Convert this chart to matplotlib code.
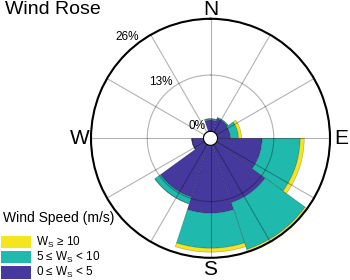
import numpy as np
import matplotlib
matplotlib.use('Agg')
import matplotlib.pyplot as plt
from matplotlib.patches import Patch

plt.rcParams['font.family'] = ['Liberation Sans', 'DejaVu Sans']

# wind direction bins (degrees, clockwise from north), 36 deg wide
directions = [0, 36, 72, 108, 144, 180, 216, 252, 288, 324]
# frequency (%) per speed class
low = [2.6, 3.2, 3.0, 10.3, 14.0, 15.7, 12.7, 2.7, 0.0, 0.0]     # 0 <= Ws < 5
mid = [0.3, 0.2, 1.85, 8.8, 11.4, 8.1, 1.6, 0.0, 0.0, 0.0]       # 5 <= Ws < 10
high = [0.0, 0.0, 0.7, 0.95, 0.5, 0.9, 0.0, 0.0, 0.0, 0.0]      # Ws >= 10

ring_labels = ['0%', '13%', '26%']
compass = ['N', 'E', 'S', 'W']
speed_labels = ['W$_\\mathregular{S}$ ≥ 10',
                '5 ≤ W$_\\mathregular{S}$ < 10',
                '0 ≤ W$_\\mathregular{S}$ < 5']
colors = ['#f5e51f', '#20b9ad', '#46399e']

fig = plt.figure(figsize=(3.5, 2.8), dpi=100)
ax = fig.add_axes([0.26, 0.0793, 0.6829, 0.8536], projection='polar')
ax.set_theta_zero_location('N')
ax.set_theta_direction(-1)
ax.set_rlim(0, 26)
ax.set_rorigin(-1.62)

theta = np.deg2rad(directions)
w = np.deg2rad(36)
low = np.array(low)
mid = np.array(mid)
high = np.array(high)
ec = (0, 0, 0, 0.25)
ax.bar(theta, low, width=w, bottom=0, color=colors[2], edgecolor=ec, linewidth=0.5)
ax.bar(theta, mid, width=w, bottom=low, color=colors[1], edgecolor=ec, linewidth=0.5)
ax.bar(theta, high, width=w, bottom=low + mid, color=colors[0], edgecolor=ec, linewidth=0.5)

ax.set_axisbelow(False)
ax.set_thetagrids(range(0, 360, 30), labels=[])
ax.set_rgrids([13, 26], labels=[])
ax.grid(True, color='k', alpha=0.3, linewidth=0.8)
ax.spines['polar'].set_linewidth(1.5)
ax.spines['polar'].set_color('k')
ax.spines['inner'].set_visible(False)

for i, lab in enumerate(compass):
    rr = 28.2 if lab == 'N' else 28.7
    ax.text(np.deg2rad(90 * i), rr, lab, fontsize=15, ha='center', va='center')

for r, lab in zip([0.3, 13, 26], ring_labels):
    ax.text(np.deg2rad(-37), r, lab, fontsize=8.5, ha='right', va='bottom')

handles = [Patch(facecolor=c, edgecolor='none') for c in colors]
fig.legend(handles, speed_labels, loc='lower left', bbox_to_anchor=(0.0, -0.005),
           frameon=False, fontsize=8.5, borderpad=0.1, borderaxespad=0,
           handlelength=2.55, handleheight=1.3, handletextpad=0.4, labelspacing=0.0)
fig.text(0.009, 0.207, 'Wind Speed (m/s)', fontsize=10, va='baseline', ha='left')

fig.text(0.015, 0.995, 'Wind Rose', fontsize=14, va='top', ha='left')

fig.savefig('out.png', dpi=100)
